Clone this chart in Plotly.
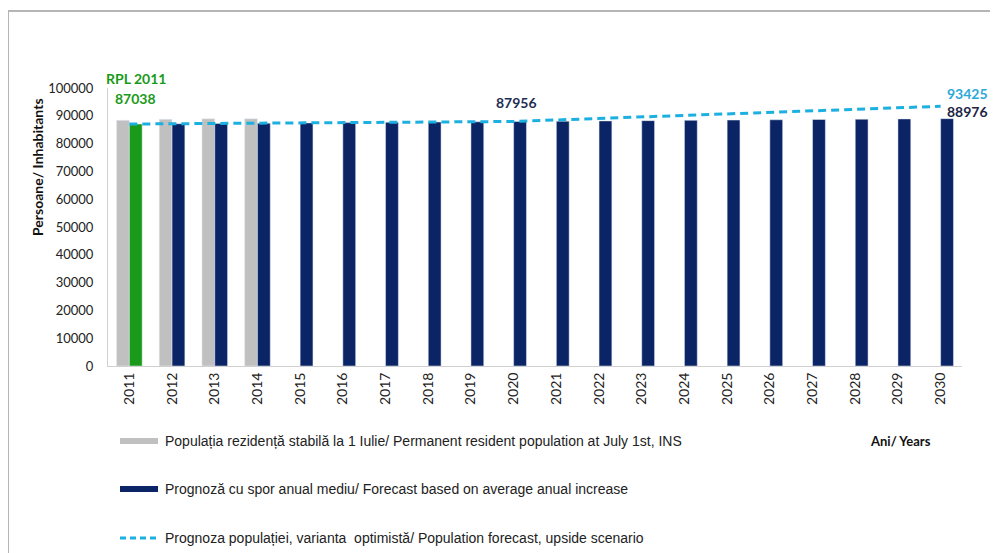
import plotly.graph_objects as go

years = [str(y) for y in range(2011, 2031)]
resident_years = ["2011", "2012", "2013", "2014"]
resident_pop = [88400, 88750, 88900, 88950]
forecast_avg = [87038, 87140, 87242, 87344, 87446, 87548, 87650, 87752, 87854, 87956,
                88058, 88160, 88262, 88364, 88466, 88568, 88670, 88772, 88874, 88976]
forecast_upside = [87038, 87140, 87242, 87344, 87446, 87548, 87650, 87752, 87854, 87956,
                   88503, 89050, 89597, 90143, 90690, 91237, 91784, 92331, 92878, 93425]
y_ticks = list(range(0, 100001, 10000))
legend_labels = [
    "Populația rezidență stabilă la 1 Iulie/ Permanent resident population at July 1st, INS",
    "Prognoză cu spor anual mediu/ Forecast based on average anual increase",
    "Prognoza populației, varianta  optimistă/ Population forecast, upside scenario",
]

GRAY = "#c0c0c0"
NAVY = "#0b2466"
GREEN = "#1a9a1a"
CYAN = "#1cb0e0"

# layout geometry (figure drawn at 8px page offset)
L, R, T, B = 100, 36, 80, 195
W, H = 990, 553
PW, PH = W - L - R, H - T - B


def px(page_x):
    return (page_x - 8 - L) / PW


def py(page_y):
    return (H - B - (page_y - 8)) / PH


fig = go.Figure()
fig.add_trace(go.Bar(x=resident_years, y=resident_pop, marker_color=GRAY,
                     showlegend=False, name=legend_labels[0]))
fig.add_trace(go.Bar(x=years, y=forecast_avg,
                     marker_color=[GREEN] + [NAVY] * (len(years) - 1),
                     showlegend=False, name=legend_labels[1]))
fig.add_trace(go.Scatter(x=years, y=forecast_upside, mode="lines",
                         line=dict(color=CYAN, width=3, dash="8px,5px"),
                         showlegend=False, name=legend_labels[2]))

lab_font = "Lato, Carlito, sans-serif"
leg_font = dict(family="Liberation Sans, Arial", size=14, color="#222")
i0, i_mid, i_last = 0, years.index("2020"), len(years) - 1
annotations = [
    dict(x=i0, y=forecast_avg[i0], text="<b>87038</b>", showarrow=False,
         xshift=6, yshift=26, font=dict(family=lab_font, size=14, color=GREEN)),
    dict(x=i0, y=forecast_avg[i0], text="<b>RPL 2011</b>", showarrow=False,
         xshift=7, yshift=46, font=dict(family=lab_font, size=14, color=GREEN)),
    dict(x=i_mid, y=forecast_avg[i_mid], text="<b>87956</b>", showarrow=False,
         xshift=3, yshift=19, font=dict(family=lab_font, size=14, color="#1f2d55")),
    dict(x=i_last, y=forecast_upside[i_last], text="<b>93425</b>", showarrow=False,
         xshift=27, yshift=13, font=dict(family=lab_font, size=14, color="#2aa8d8")),
    dict(x=i_last, y=forecast_avg[i_last], text="<b>88976</b>", showarrow=False,
         xshift=27, yshift=7, font=dict(family=lab_font, size=14, color="#1c2444")),
    dict(x=px(37), y=py(167), xref="paper", yref="paper", text="<b>Persoane/ Inhabitants</b>",
         textangle=-90, showarrow=False, xanchor="center", yanchor="middle",
         font=dict(family=lab_font, size=14, color="#111")),
    dict(x=px(900), y=py(441), xref="paper", yref="paper", text="<b>Ani/ Years</b>",
         showarrow=False, xanchor="center", yanchor="middle",
         font=dict(family=lab_font, size=13, color="#111")),
]

legend_rows = [441, 489, 538]
legend_styles = [dict(color=GRAY, width=6), dict(color=NAVY, width=6),
                 dict(color=CYAN, width=3, dash="6px,4px")]
shapes = [
    dict(type="line", xref="paper", yref="paper", x0=px(8), x1=px(1000), y0=py(11), y1=py(11),
         line=dict(color="#b5b5b5", width=2)),
    dict(type="line", xref="paper", yref="paper", x0=px(8), x1=px(8), y0=py(560), y1=py(11),
         line=dict(color="#b5b5b5", width=2)),
]
for label, row, style in zip(legend_labels, legend_rows, legend_styles):
    shapes.append(dict(type="line", xref="paper", yref="paper", x0=px(120), x1=px(158),
                       y0=py(row), y1=py(row), line=style))
    annotations.append(dict(x=px(163), y=py(row), xref="paper", yref="paper", text=label,
                            showarrow=False, xanchor="left", yanchor="middle", font=leg_font))

fig.update_layout(
    width=W, height=H,
    margin=dict(l=L, r=R, t=T, b=B),
    paper_bgcolor="white", plot_bgcolor="white",
    barmode="group", bargap=0.4, bargroupgap=0,
    showlegend=False,
    annotations=annotations,
    shapes=shapes,
)
fig.update_xaxes(type="category", categoryorder="array", categoryarray=years,
                 range=[-0.5, len(years) - 0.5],
                 tickangle=-90, tickfont=dict(family=lab_font, size=14, color="#222"),
                 showline=True, linecolor="#d0d0d0", linewidth=1, ticks="", showgrid=False)
fig.update_yaxes(range=[0, 100000], tickvals=y_ticks, ticktext=[str(v) for v in y_ticks],
                 tickfont=dict(family=lab_font, size=13, color="#222"),
                 showline=True, linecolor="#d0d0d0", linewidth=1, showgrid=False,
                 zeroline=False, ticklabelstandoff=11)

fig.write_html("out.html")
